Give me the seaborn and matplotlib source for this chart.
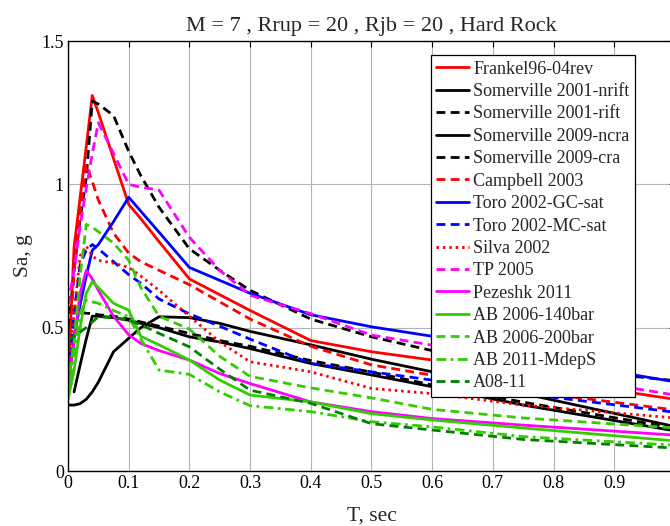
import numpy as np
import pandas as pd
import matplotlib
matplotlib.use("Agg")
import matplotlib.pyplot as plt
import seaborn as sns

# ---------------- data ----------------
T = [0.0, 0.01, 0.02, 0.03, 0.04, 0.05, 0.075, 0.1, 0.12, 0.15, 0.2, 0.25, 0.3, 0.4, 0.5, 0.6, 0.75, 1.0]
nan = float("nan")

sa_frankel   = [0.32, 0.78, 0.955, 1.13, 1.31, 1.25, 1.09, 0.93, 0.88, 0.80, 0.67, 0.615, 0.56, 0.455, 0.416, 0.387, 0.33, 0.25]
sa_som01_nr  = [nan, 0.276, 0.37, 0.46, 0.54, 0.54, 0.535, 0.526, 0.515, 0.50, 0.468, 0.45, 0.427, 0.375, 0.335, 0.294, 0.23, 0.14]
sa_som01_r   = [0.45, 0.70, 0.88, 1.02, 1.29, 1.28, 1.24, 1.115, 1.03, 0.92, 0.775, 0.70, 0.63, 0.53, 0.468, 0.42, 0.37, 0.315]
sa_som09_nc  = [0.23, 0.23, 0.235, 0.25, 0.276, 0.31, 0.416, 0.463, 0.50, 0.538, 0.535, 0.515, 0.487, 0.44, 0.39, 0.346, 0.27, 0.155]
sa_som09_c   = [0.57, 0.56, 0.555, 0.55, 0.55, 0.545, 0.54, 0.53, 0.52, 0.505, 0.48, 0.455, 0.435, 0.385, 0.345, 0.30, 0.24, 0.15]
sa_campbell  = [0.35, 0.70, 0.90, 1.07, 1.01, 0.945, 0.83, 0.76, 0.73, 0.70, 0.65, 0.59, 0.53, 0.435, 0.37, 0.334, 0.28, 0.213]
sa_toro_gc   = [0.28, 0.47, 0.58, 0.68, 0.77, 0.79, 0.87, 0.955, 0.906, 0.833, 0.71, 0.665, 0.62, 0.545, 0.503, 0.47, 0.40, 0.311]
sa_toro_mc   = [0.30, 0.55, 0.72, 0.77, 0.79, 0.775, 0.73, 0.685, 0.655, 0.60, 0.548, 0.505, 0.46, 0.375, 0.346, 0.317, 0.27, 0.205]
sa_silva     = [0.35, 0.55, 0.75, 0.785, 0.75, 0.735, 0.725, 0.71, 0.68, 0.63, 0.54, 0.45, 0.381, 0.346, 0.288, 0.27, 0.23, 0.185]
sa_tp        = [0.58, 0.70, 0.855, 0.985, 1.107, 1.215, 1.108, 1.0, 0.99, 0.98, 0.815, 0.70, 0.613, 0.549, 0.474, 0.439, 0.35, 0.265]
sa_pezeshk   = [0.30, 0.45, 0.62, 0.70, 0.67, 0.63, 0.54, 0.475, 0.445, 0.42, 0.387, 0.34, 0.305, 0.241, 0.207, 0.183, 0.16, 0.125]
sa_ab06_140  = [0.25, 0.35, 0.50, 0.62, 0.66, 0.64, 0.585, 0.561, 0.47, 0.44, 0.387, 0.317, 0.265, 0.241, 0.20, 0.178, 0.15, 0.105]
sa_ab06_200  = [0.30, 0.45, 0.68, 0.86, 0.85, 0.835, 0.795, 0.735, 0.64, 0.54, 0.495, 0.40, 0.33, 0.29, 0.255, 0.215, 0.185, 0.15]
sa_ab11      = [0.25, 0.40, 0.55, 0.595, 0.59, 0.585, 0.56, 0.538, 0.46, 0.352, 0.337, 0.276, 0.228, 0.207, 0.172, 0.154, 0.12, 0.09]
sa_a08       = [0.456, 0.47, 0.485, 0.50, 0.52, 0.538, 0.535, 0.526, 0.51, 0.48, 0.433, 0.355, 0.282, 0.236, 0.165, 0.143, 0.11, 0.08]

labels = ["Frankel96-04rev", "Somerville 2001-nrift", "Somerville 2001-rift",
          "Somerville 2009-ncra", "Somerville 2009-cra", "Campbell 2003",
          "Toro 2002-GC-sat", "Toro 2002-MC-sat", "Silva 2002", "TP 2005",
          "Pezeshk 2011", "AB 2006-140bar", "AB 2006-200bar", "AB 2011-MdepS", "A08-11"]
series = [sa_frankel, sa_som01_nr, sa_som01_r, sa_som09_nc, sa_som09_c, sa_campbell,
          sa_toro_gc, sa_toro_mc, sa_silva, sa_tp, sa_pezeshk, sa_ab06_140, sa_ab06_200,
          sa_ab11, sa_a08]

title = "M = 7 , Rrup = 20 , Rjb = 20 , Hard Rock"
xticks = [0, 0.1, 0.2, 0.3, 0.4, 0.5, 0.6, 0.7, 0.8, 0.9, 1.0]
xticklabels = ["0", "0.1", "0.2", "0.3", "0.4", "0.5", "0.6", "0.7", "0.8", "0.9", ""]
yticks = [0, 0.5, 1.0, 1.5]
yticklabels = ["0", "0.5", "1", "1.5"]

# ---------------- styles ----------------
RED, BLK, BLU, MAG, GRN, DGR = "#ff0000", "#000000", "#0000ff", "#ff00ff", "#33cc00", "#007f00"
SOLID = "-"
DASH = (0, (3.2, 1.9))
DOT = (0, (0.9, 1.4))
DASHDOT = (0, (3.5, 1.6, 1.0, 1.6))
styles = [(RED, SOLID), (BLK, SOLID), (BLK, DASH), (BLK, SOLID), (BLK, DASH), (RED, DASH),
          (BLU, SOLID), (BLU, DASH), (RED, DOT), (MAG, DASH), (MAG, SOLID), (GRN, SOLID),
          (GRN, DASH), (GRN, DASHDOT), (DGR, DASH)]

sns.set_theme(style="white")
plt.rcParams["font.family"] = ["Liberation Serif", "DejaVu Serif"]

fig = plt.figure(figsize=(6.70, 5.26), dpi=100)
ax = fig.add_axes([68 / 670, (526 - 471) / 526, 607 / 670, 430 / 526])

df = pd.DataFrame({"T": np.tile(T, len(labels)),
                   "Sa": np.concatenate([np.asarray(s, float) for s in series]),
                   "model": np.repeat(labels, len(T))})

for lab, (col, ls) in zip(labels, styles):
    sub = df[(df["model"] == lab) & df["Sa"].notna()]
    sns.lineplot(data=sub, x="T", y="Sa", ax=ax, color=col, linestyle=ls,
                 linewidth=2.0, label=lab, errorbar=None, sort=False)

ax.set_xlim(0, 1)
ax.set_ylim(0, 1.5)
ax.set_xticks(xticks)
ax.set_xticklabels(xticklabels)
ax.set_yticks(yticks)
ax.set_yticklabels(yticklabels)
ax.grid(True, color="#b4b4b4", linewidth=0.8)
ax.set_axisbelow(True)
for sp in ax.spines.values():
    sp.set_visible(True)
    sp.set_color("black")
    sp.set_linewidth(1.0)
ax.tick_params(direction="in", length=4.3, width=0.8, top=True, right=True,
               labelsize=13, colors="black", pad=3)

ax.set_title(title, fontsize=16, pad=7)
ax.set_xlabel("T, sec", fontsize=15.5, labelpad=10)
ax.set_ylabel("Sa, g", fontsize=15.5, labelpad=6)

leg = ax.legend(loc="upper left", bbox_to_anchor=(0.5975, 0.967), borderaxespad=0,
                fancybox=False, frameon=True, edgecolor="black", framealpha=1,
                fontsize=13, handlelength=1.8, handletextpad=0.25, labelspacing=0.3,
                borderpad=0.3)
leg.get_frame().set_linewidth(0.9)

fig.savefig("out.png", dpi=100)
